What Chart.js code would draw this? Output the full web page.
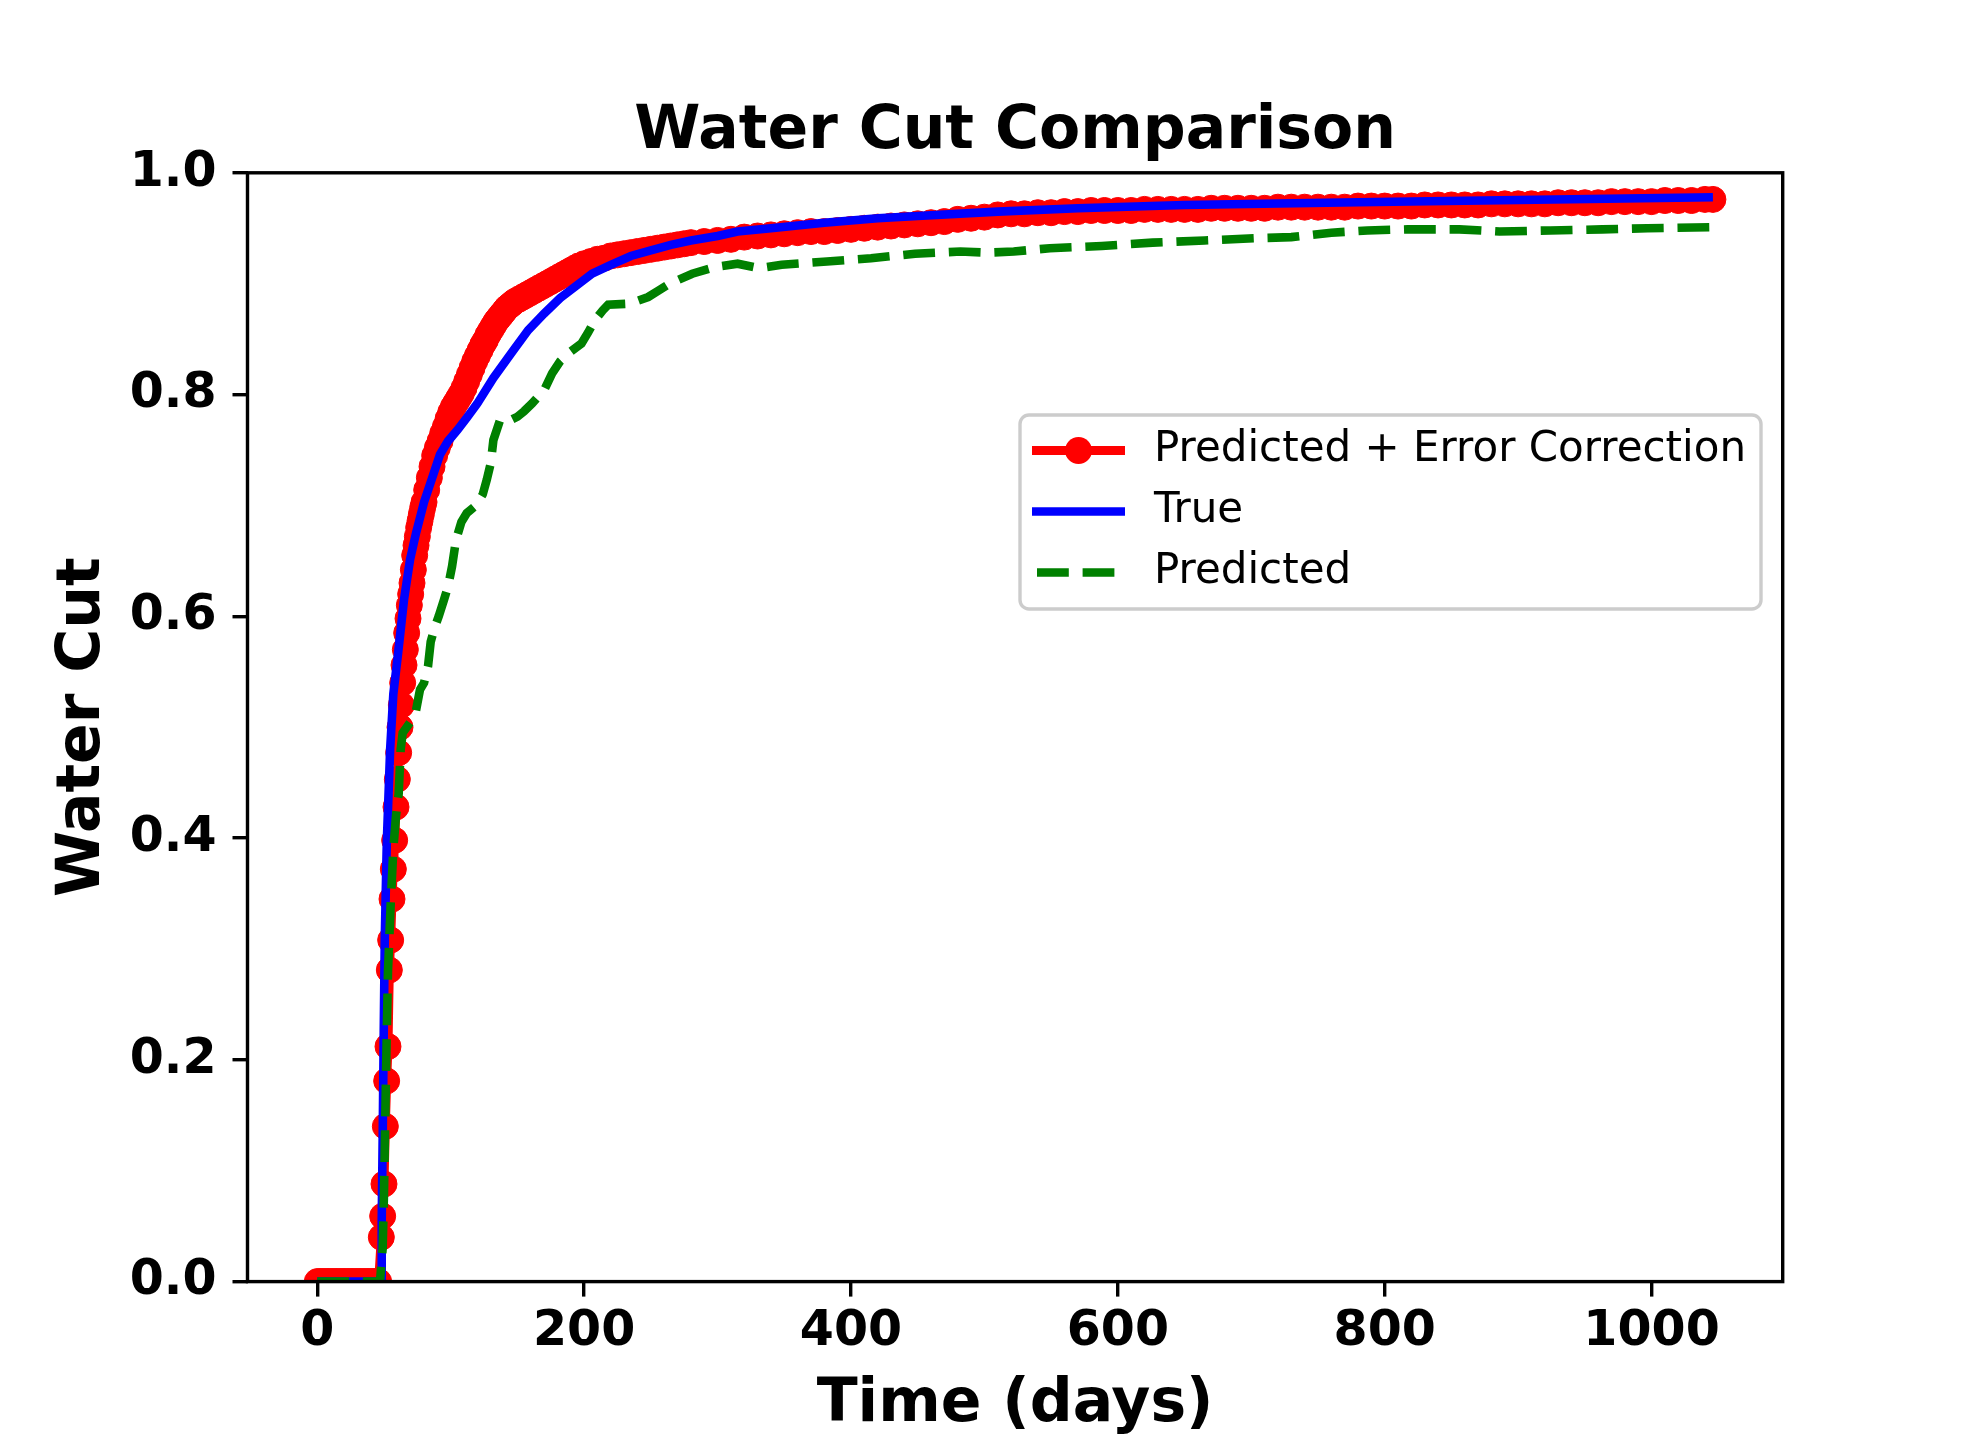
<!DOCTYPE html>
<html>
<head>
<meta charset="utf-8">
<title>Water Cut Comparison</title>
<script src="https://cdn.jsdelivr.net/npm/chart.js@4.4.1/dist/chart.umd.min.js"></script>
<style>
  html, body { margin: 0; padding: 0; background: #ffffff; }
  #chart { display: block; }
</style>
</head>
<body>
<canvas id="chart" width="1980" height="1440"></canvas>
<script>
// Predicted + Error Correction
const correctedDays = [
  0, 2, 4, 6, 8, 10, 12, 14, 16, 18,
  20, 22, 24, 26, 28, 30, 32, 34, 36, 38,
  40, 42, 44, 46, 48, 49, 50, 51, 52, 53,
  54, 55, 56, 57, 58, 59, 60, 61, 62, 63,
  64, 65, 66, 67, 68, 69, 70, 71, 72, 73,
  74, 75, 76, 77, 78, 79, 80, 82, 84, 86,
  88, 90, 92, 94, 96, 98, 100, 102, 104, 106,
  108, 110, 112, 114, 116, 118, 120, 122, 124, 126,
  128, 130, 132, 134, 136, 138, 140, 142, 144, 146,
  148, 151, 154, 157, 160, 163, 166, 169, 172, 175,
  178, 181, 184, 187, 190, 193, 196, 200, 205, 210,
  215, 220, 225, 230, 235, 240, 245, 250, 255, 260,
  265, 270, 275, 280, 290, 300, 310, 320, 330, 340,
  350, 360, 370, 380, 390, 400, 410, 420, 430, 440,
  450, 460, 470, 480, 490, 500, 510, 520, 530, 540,
  550, 560, 570, 580, 590, 600, 610, 620, 630, 640,
  650, 660, 670, 680, 690, 700, 710, 720, 730, 740,
  750, 760, 770, 780, 790, 800, 810, 820, 830, 840,
  850, 860, 870, 880, 890, 900, 910, 920, 930, 940,
  950, 960, 970, 980, 990, 1000, 1010, 1020, 1030, 1040,
  1046
];
const correctedCut = [
  0, 0, 0, 0, 0, 0, 0, 0, 0, 0,
  0, 0, 0, 0, 0, 0, 0, 0, 0, 0,
  0, 0, 0, 0, 0.040, 0.059, 0.088, 0.140, 0.181, 0.212,
  0.281, 0.308, 0.345, 0.372, 0.398, 0.428, 0.453, 0.477, 0.500, 0.520,
  0.540, 0.556, 0.570, 0.585, 0.598, 0.610, 0.620, 0.630, 0.642, 0.655,
  0.664, 0.672, 0.680, 0.686, 0.692, 0.698, 0.703, 0.714, 0.725, 0.735,
  0.745, 0.752, 0.758, 0.765, 0.771, 0.778, 0.784, 0.789, 0.793, 0.797,
  0.801, 0.806, 0.812, 0.818, 0.824, 0.830, 0.835, 0.840, 0.845, 0.849,
  0.854, 0.858, 0.862, 0.866, 0.869, 0.872, 0.875, 0.878, 0.880, 0.882,
  0.884, 0.886, 0.888, 0.890, 0.892, 0.894, 0.896, 0.898, 0.900, 0.902,
  0.904, 0.906, 0.908, 0.910, 0.912, 0.914, 0.916, 0.918, 0.920, 0.922,
  0.923, 0.925, 0.926, 0.927, 0.928, 0.929, 0.930, 0.931, 0.932, 0.933,
  0.934, 0.935, 0.936, 0.937, 0.938, 0.939, 0.940, 0.942, 0.943, 0.944,
  0.945, 0.946, 0.947, 0.947, 0.948, 0.949, 0.950, 0.951, 0.952, 0.953,
  0.954, 0.955, 0.956, 0.958, 0.959, 0.960, 0.962, 0.963, 0.963, 0.964,
  0.964, 0.965, 0.965, 0.966, 0.966, 0.966, 0.966, 0.967, 0.967, 0.967,
  0.967, 0.967, 0.968, 0.968, 0.968, 0.968, 0.968, 0.969, 0.969, 0.969,
  0.969, 0.969, 0.969, 0.970, 0.970, 0.970, 0.970, 0.970, 0.971, 0.971,
  0.971, 0.971, 0.971, 0.972, 0.972, 0.972, 0.972, 0.972, 0.973, 0.973,
  0.973, 0.973, 0.974, 0.974, 0.974, 0.974, 0.975, 0.975, 0.975, 0.976,
  0.976
];

// True
const trueDays = [
  0, 48, 48.3, 49.1, 49.8, 50.6, 52.1, 54.6, 57, 60.5,
  65, 69.5, 74, 80, 87, 92, 98, 105, 112, 120,
  132, 147, 158, 170, 182, 194, 206, 220, 235, 250,
  265, 280, 300, 315, 340, 380, 420, 450, 510, 570,
  650, 780, 900, 1046
];
const trueCut = [
  0, 0, 0.055, 0.14, 0.225, 0.31, 0.396, 0.48, 0.53, 0.566,
  0.615, 0.651, 0.675, 0.703, 0.728, 0.746, 0.758, 0.768, 0.779, 0.792,
  0.815, 0.840, 0.858, 0.873, 0.887, 0.898, 0.909, 0.917, 0.925, 0.930,
  0.935, 0.939, 0.943, 0.947, 0.950, 0.955, 0.959, 0.961, 0.965, 0.968,
  0.971, 0.9735, 0.9755, 0.978
];

// Predicted
const predictedDays = [
  0, 47, 49, 50, 51, 52, 53, 55, 57, 59,
  61, 62.5, 64, 67, 70, 74, 77, 80, 83, 85,
  88, 91, 95, 98, 101, 104, 108, 112, 119, 124,
  127, 130, 132, 137, 145, 150, 155, 161, 170, 176,
  182, 188, 198, 203, 208, 214, 218, 234, 248, 256,
  264, 281, 298, 315, 331, 348, 382, 415, 448, 482,
  502, 522, 549, 569, 588, 626, 665, 703, 730, 760,
  787, 817, 856, 886, 924, 963, 997, 1046
];
const predictedCut = [
  0, 0, 0.03, 0.08, 0.15, 0.22, 0.28, 0.34, 0.39, 0.42,
  0.44, 0.48, 0.495, 0.50, 0.505, 0.515, 0.534, 0.54, 0.555, 0.577,
  0.59, 0.60, 0.615, 0.627, 0.645, 0.669, 0.685, 0.693, 0.70, 0.71,
  0.723, 0.738, 0.759, 0.777, 0.777, 0.78, 0.785, 0.792, 0.804, 0.819,
  0.83, 0.837, 0.846, 0.856, 0.867, 0.876, 0.881, 0.882, 0.888, 0.894,
  0.90, 0.909, 0.915, 0.918, 0.914, 0.917, 0.92, 0.923, 0.927, 0.929,
  0.928, 0.929, 0.932, 0.933, 0.934, 0.937, 0.939, 0.941, 0.942, 0.946,
  0.948, 0.949, 0.949, 0.947, 0.948, 0.949, 0.950, 0.951
];

// Axis ticks
const xTickValues = [0, 200, 400, 600, 800, 1000];
const xTickLabels = ['0', '200', '400', '600', '800', '1000'];
const yTickValues = [0, 0.2, 0.4, 0.6, 0.8, 1.0];
const yTickLabels = ['0.0', '0.2', '0.4', '0.6', '0.8', '1.0'];

// Axes box in canvas pixels
const AREA = { left: 247.5, right: 1782.7, top: 172.8, bottom: 1281.6 };
const AXIS_LW = 3.4;

function toPoints(xs, ys) {
  return xs.map((x, i) => ({ x: x, y: ys[i] }));
}

// Draw the four spines on top of the lines, like matplotlib does
const framePlugin = {
  id: 'frame',
  afterDatasetsDraw(chart) {
    const ctx = chart.ctx;
    const a = chart.chartArea;
    ctx.save();
    ctx.strokeStyle = '#000000';
    ctx.lineWidth = AXIS_LW;
    ctx.strokeRect(a.left, a.top, a.right - a.left, a.bottom - a.top);
    ctx.restore();
  }
};

// Legend box inside the axes (upper right, below the curves)
const legendPlugin = {
  id: 'insideLegend',
  afterDraw(chart) {
    const ctx = chart.ctx;
    const box = { x: 1020, y: 415, w: 741, h: 194, r: 9 };
    const rows = [450.5, 511.5, 572.5];

    ctx.save();
    ctx.beginPath();
    ctx.roundRect(box.x, box.y, box.w, box.h, box.r);
    ctx.fillStyle = 'rgba(255,255,255,0.8)';
    ctx.fill();
    ctx.strokeStyle = '#cccccc';
    ctx.lineWidth = 3.4;
    ctx.stroke();

    chart.data.datasets.forEach((ds, i) => {
      const y = rows[i];
      ctx.beginPath();
      ctx.lineCap = 'butt';
      ctx.lineWidth = ds.borderWidth;
      ctx.strokeStyle = ds.borderColor;
      if (ds.borderDash) {
        ctx.setLineDash(ds.borderDash);
        ctx.moveTo(1037, y);
        ctx.lineTo(1120, y);
      } else {
        ctx.setLineDash([]);
        ctx.moveTo(1032, y);
        ctx.lineTo(1125, y);
      }
      ctx.stroke();
      ctx.setLineDash([]);

      if (ds.pointRadius > 0) {
        ctx.beginPath();
        ctx.arc(1078.5, y, ds.pointRadius + 0.5, 0, Math.PI * 2);
        ctx.fillStyle = ds.pointBackgroundColor;
        ctx.fill();
      }

      ctx.fillStyle = '#000000';
      ctx.font = '42px "DejaVu Sans"';
      ctx.textAlign = 'left';
      ctx.textBaseline = 'middle';
      ctx.fillText(ds.label, 1154, y);
    });
    ctx.restore();
  }
};

document.addEventListener('DOMContentLoaded', function() {
  Chart.defaults.font.family = '"DejaVu Sans"';
  Chart.defaults.color = '#000000';

  const tickFont = { size: 49, weight: 'bold' };
  const labelFont = { size: 60, weight: 'bold' };

  new Chart(document.getElementById('chart'), {
    type: 'line',
    data: {
      datasets: [
        {
          label: 'Predicted + Error Correction',
          data: toPoints(correctedDays, correctedCut),
          borderColor: '#ff0000',
          backgroundColor: '#ff0000',
          borderWidth: 9,
          pointRadius: 13,
          pointBorderWidth: 1,
          pointBackgroundColor: '#ff0000',
          pointBorderColor: '#ff0000',
          pointHoverRadius: 13,
          order: 3,
          clip: 0
        },
        {
          label: 'True',
          data: toPoints(trueDays, trueCut),
          borderColor: '#0000ff',
          backgroundColor: '#0000ff',
          borderWidth: 8.6,
          pointRadius: 0,
          pointHoverRadius: 0,
          order: 2,
          clip: 0
        },
        {
          label: 'Predicted',
          data: toPoints(predictedDays, predictedCut),
          borderColor: '#008000',
          backgroundColor: '#008000',
          borderWidth: 8.6,
          borderDash: [31.8, 13.8],
          borderCapStyle: 'butt',
          pointRadius: 0,
          pointHoverRadius: 0,
          order: 1,
          clip: 0
        }
      ]
    },
    options: {
      responsive: false,
      devicePixelRatio: 1,
      animation: false,
      events: [],
      elements: { line: { tension: 0, fill: false } },
      layout: { padding: { left: 0, top: 0, right: 1980 - AREA.right, bottom: 0 } },
      plugins: {
        legend: { display: false },
        tooltip: { enabled: false },
        title: {
          display: true,
          text: 'Water Cut Comparison',
          fullSize: false,
          color: '#000000',
          font: labelFont,
          padding: { top: 96, bottom: 4.8 }
        }
      },
      scales: {
        x: {
          type: 'linear',
          min: -52.3,
          max: 1098.3,
          afterFit: function(scale) { scale.height = 1440 - AREA.bottom; },
          afterBuildTicks: function(scale) {
            scale.ticks = xTickValues.map(v => ({ value: v }));
          },
          ticks: {
            autoSkip: false,
            maxRotation: 0,
            padding: 6,
            color: '#000000',
            font: tickFont,
            callback: function(value, index) { return xTickLabels[index]; }
          },
          grid: {
            drawOnChartArea: false,
            drawTicks: true,
            tickLength: 15,
            lineWidth: AXIS_LW,
            color: '#000000'
          },
          border: { display: false },
          title: {
            display: true,
            text: 'Time (days)',
            color: '#000000',
            font: { size: 60, weight: 'bold', lineHeight: 1.1 },
            padding: { top: 0, bottom: 2 }
          }
        },
        y: {
          type: 'linear',
          min: 0,
          max: 1,
          afterFit: function(scale) { scale.width = AREA.left; },
          afterBuildTicks: function(scale) {
            scale.ticks = yTickValues.map(v => ({ value: v }));
          },
          ticks: {
            autoSkip: false,
            padding: 16,
            color: '#000000',
            font: tickFont,
            callback: function(value, index) { return yTickLabels[index]; }
          },
          grid: {
            drawOnChartArea: false,
            drawTicks: true,
            tickLength: 15,
            lineWidth: AXIS_LW,
            color: '#000000'
          },
          border: { display: false },
          title: {
            display: true,
            text: 'Water Cut',
            color: '#000000',
            font: labelFont,
            padding: { top: 47, bottom: 0 }
          }
        }
      }
    },
    plugins: [framePlugin, legendPlugin]
  });
});
</script>
</body>
</html>
